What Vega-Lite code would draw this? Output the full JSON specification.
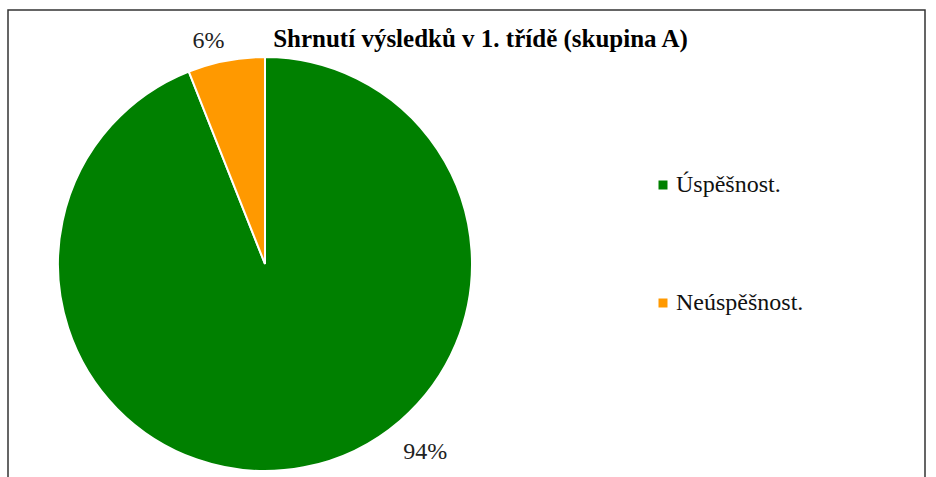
{
  "$schema": "https://vega.github.io/schema/vega-lite/v6.json",
  "autosize": "none",
  "width": 917,
  "height": 480,
  "padding": {"left": 8, "top": 10, "right": 11, "bottom": 0},
  "background": "white",
  "config": {
    "view": {"stroke": "#333", "strokeWidth": 1.5},
    "font": "Liberation Serif"
  },
  "title": {
    "text": "Shrnutí výsledků v 1. třídě (skupina A)",
    "font": "Liberation Serif",
    "fontSize": 25,
    "fontWeight": "bold",
    "color": "#000",
    "anchor": "middle",
    "frame": "group",
    "dx": 14,
    "offset": -62,
    "baseline": "alphabetic"
  },
  "data": {
    "values": [
      {"kategorie": "Úspěšnost.", "podil": 94, "popisek": "94%"},
      {"kategorie": "Neúspěšnost.", "podil": 6, "popisek": "6%"}
    ]
  },
  "encoding": {
    "theta": {"field": "podil", "type": "quantitative", "stack": true},
    "order": {"field": "podil", "type": "quantitative", "sort": "descending"}
  },
  "layer": [
    {
      "mark": {"type": "arc", "outerRadius": 207, "stroke": "white", "strokeWidth": 2},
      "encoding": {
        "x": {"value": 257},
        "y": {"value": 254},
        "color": {
          "field": "kategorie",
          "type": "nominal",
          "scale": {"domain": ["Úspěšnost.", "Neúspěšnost."], "range": ["#008000", "#FF9900"]},
          "legend": {
            "title": null,
            "orient": "none",
            "legendX": 643,
            "legendY": 163,
            "symbolType": "square",
            "symbolSize": 81,
            "symbolStrokeWidth": 0,
            "labelFont": "Liberation Serif",
            "labelFontSize": 24,
            "labelColor": "#111",
            "labelOffset": 1,
            "rowPadding": 94
          }
        }
      }
    },
    {
      "mark": {"type": "text", "radius": 247, "thetaOffset": -0.517, "fontSize": 24, "font": "Liberation Serif", "color": "#222"},
      "encoding": {
        "x": {"value": 257},
        "y": {"value": 254},
        "text": {"condition": {"test": "datum.podil == 94", "field": "popisek"}, "value": ""}
      }
    },
    {
      "mark": {"type": "text", "radius": 230, "thetaOffset": -0.06, "fontSize": 24, "font": "Liberation Serif", "color": "#222"},
      "encoding": {
        "x": {"value": 257},
        "y": {"value": 254},
        "text": {"condition": {"test": "datum.podil == 6", "field": "popisek"}, "value": ""}
      }
    }
  ]
}
